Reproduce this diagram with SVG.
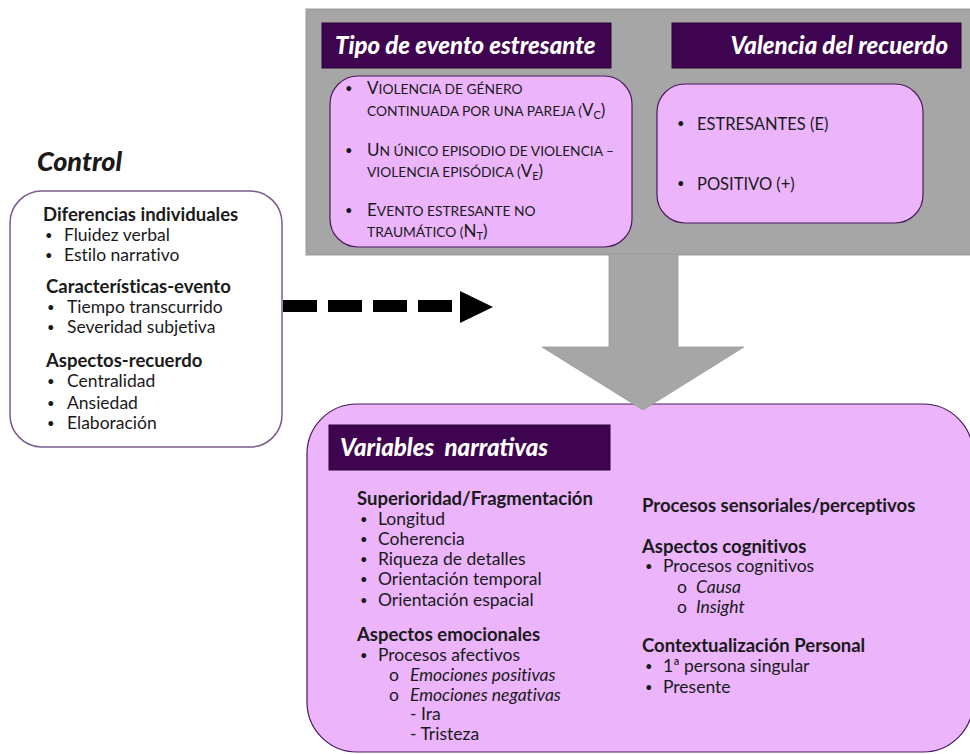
<svg xmlns="http://www.w3.org/2000/svg" width="970" height="754" viewBox="0 0 970 754">
  <style>
    .txt { font-family: Lato, "Open Sans", "Liberation Sans", sans-serif; fill: #1a1a1a; font-variant-ligatures: no-common-ligatures; }
    .body { font-size: 17.5px; }
    .head { font-size: 18.5px; font-weight: 700; }
    .it { font-style: italic; }
    .bul { font-size: 13px; }
    .bar-title { font-family: Lato, "Open Sans", "Liberation Sans", sans-serif; font-size: 24px; font-weight: 900; font-style: italic; fill: #ffffff; }
    .bar { fill: #3e0450; stroke: #2a0238; stroke-width: 1; }
    .pink { fill: #ebb4fb; stroke: #4a1a5a; stroke-width: 1.2; }
    .sc { font-size: 13.8px; }
    .scb { font-size: 17px; }
    .sub { font-size: 11px; }
  </style>

  <rect width="970" height="754" fill="#ffffff"/>

  <!-- grey panel holding the two classifying factors -->
  <g id="factors-panel">
    <rect x="306" y="9" width="670" height="246" fill="#a6a6a6" stroke="#9a9a9a" stroke-width="1"/>
  </g>

  <!-- event type -->
  <g id="tipo-evento">
    <rect class="bar" x="322" y="23" width="289" height="45"/>
    <text class="bar-title" x="335" y="54">Tipo de evento estresante</text>
    <rect class="pink" x="330" y="76" width="302" height="171" rx="28"/>
    <g class="txt">
      <text class="bul" x="345" y="93">•</text>
      <text x="367" y="94"><tspan class="scb">V</tspan><tspan class="sc">IOLENCIA DE GÉNERO</tspan></text>
      <text x="367" y="116"><tspan class="sc">CONTINUADA POR UNA PAREJA (</tspan><tspan class="scb">V</tspan><tspan class="sub" dy="3">C</tspan><tspan class="scb" dy="-3">)</tspan></text>
      <text class="bul" x="345" y="155">•</text>
      <text x="367" y="156"><tspan class="scb">U</tspan><tspan class="sc">N ÚNICO EPISODIO DE VIOLENCIA –</tspan></text>
      <text x="367" y="177"><tspan class="sc">VIOLENCIA EPISÓDICA (</tspan><tspan class="scb">V</tspan><tspan class="sub" dy="3">E</tspan><tspan class="scb" dy="-3">)</tspan></text>
      <text class="bul" x="345" y="215">•</text>
      <text x="367" y="216"><tspan class="scb">E</tspan><tspan class="sc">VENTO ESTRESANTE NO</tspan></text>
      <text x="367" y="237"><tspan class="sc">TRAUMÁTICO (</tspan><tspan class="scb">N</tspan><tspan class="sub" dy="3">T</tspan><tspan class="scb" dy="-3">)</tspan></text>
    </g>
  </g>

  <!-- memory valence -->
  <g id="valencia-recuerdo">
    <rect class="bar" x="672" y="23" width="289" height="45"/>
    <text class="bar-title" x="948" y="54" text-anchor="end">Valencia del recuerdo</text>
    <rect class="pink" x="657" y="84" width="266" height="139" rx="28"/>
    <g class="txt">
      <text class="bul" x="677" y="128">•</text>
      <text x="697" y="130" font-size="16.5">ESTRESANTES (E)</text>
      <text class="bul" x="677" y="188">•</text>
      <text x="697" y="190" font-size="16.5">POSITIVO (+)</text>
    </g>
  </g>

  <!-- control variables -->
  <g id="control">
    <text class="txt" x="37" y="171" font-size="27" font-weight="900" font-style="italic">Control</text>
    <rect x="10" y="191" width="272" height="256" rx="32" fill="#ffffff" stroke="#7a5a90" stroke-width="1.5"/>
    <g class="txt">
      <text class="head" x="43" y="221">Diferencias individuales</text>
      <text class="bul" x="45" y="240">•</text><text class="body" x="64" y="241">Fluidez verbal</text>
      <text class="bul" x="45" y="260">•</text><text class="body" x="64" y="261">Estilo narrativo</text>
      <text class="head" x="46" y="293">Características-evento</text>
      <text class="bul" x="47" y="312">•</text><text class="body" x="67" y="313">Tiempo transcurrido</text>
      <text class="bul" x="47" y="332">•</text><text class="body" x="67" y="333">Severidad subjetiva</text>
      <text class="head" x="46" y="367">Aspectos-recuerdo</text>
      <text class="bul" x="47" y="386">•</text><text class="body" x="67" y="387">Centralidad</text>
      <text class="bul" x="47" y="408">•</text><text class="body" x="67" y="409">Ansiedad</text>
      <text class="bul" x="47" y="428">•</text><text class="body" x="67" y="429">Elaboración</text>
    </g>
  </g>

  <!-- narrative variables -->
  <g id="variables-narrativas">
    <rect class="pink" x="307" y="404" width="666" height="348" rx="50"/>
    <rect class="bar" x="329" y="425" width="281" height="45"/>
    <text class="bar-title" x="340" y="456" xml:space="preserve">Variables  narrativas</text>
    <g class="txt">
      <text class="head" x="357" y="505">Superioridad/Fragmentación</text>
      <text class="bul" x="360" y="524">•</text><text class="body" x="378" y="525">Longitud</text>
      <text class="bul" x="360" y="544">•</text><text class="body" x="378" y="545">Coherencia</text>
      <text class="bul" x="360" y="564">•</text><text class="body" x="378" y="565">Riqueza de detalles</text>
      <text class="bul" x="360" y="584">•</text><text class="body" x="378" y="585">Orientación temporal</text>
      <text class="bul" x="360" y="605">•</text><text class="body" x="378" y="606">Orientación espacial</text>
      <text class="head" x="357" y="641">Aspectos emocionales</text>
      <text class="bul" x="360" y="660">•</text><text class="body" x="378" y="661">Procesos afectivos</text>
      <text class="body" x="389" y="681">o</text><text class="body it" x="410" y="681">Emociones positivas</text>
      <text class="body" x="389" y="701">o</text><text class="body it" x="410" y="701">Emociones negativas</text>
      <text class="body" x="410" y="720">- Ira</text>
      <text class="body" x="410" y="740">- Tristeza</text>

      <text class="head" x="642" y="512">Procesos sensoriales/perceptivos</text>
      <text class="head" x="642" y="553">Aspectos cognitivos</text>
      <text class="bul" x="645" y="571">•</text><text class="body" x="663" y="572">Procesos cognitivos</text>
      <text class="body" x="677" y="593">o</text><text class="body it" x="696" y="593">Causa</text>
      <text class="body" x="677" y="613">o</text><text class="body it" x="696" y="613">Insight</text>
      <text class="head" x="642" y="652">Contextualización Personal</text>
      <text class="bul" x="645" y="671">•</text><text class="body" x="663" y="672">1ª persona singular</text>
      <text class="bul" x="645" y="692">•</text><text class="body" x="663" y="693">Presente</text>
    </g>
  </g>

  <!-- connectors -->
  <g id="connectors">
    <!-- block arrow from the factors panel down into the narrative variables -->
    <polygon points="609,254 678,254 678,347 744,347 643,410 542,347 609,347" fill="#a6a6a6" stroke="#9a9a9a" stroke-width="0.8"/>
    <!-- dashed influence of control variables -->
    <line x1="283" y1="306" x2="455" y2="306" stroke="#000" stroke-width="12" stroke-dasharray="34 11"/>
    <polygon points="460,291 493,307 460,323" fill="#000"/>
  </g>
</svg>
